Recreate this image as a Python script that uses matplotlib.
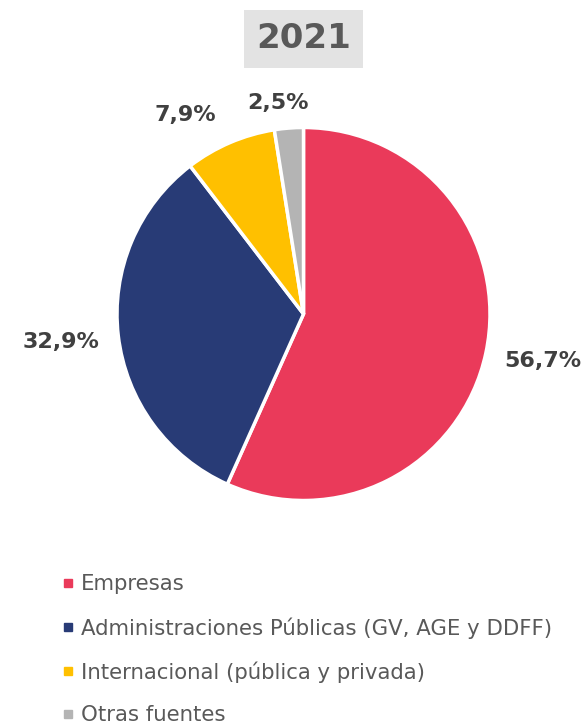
import matplotlib
matplotlib.use("Agg")
import matplotlib.pyplot as plt
from matplotlib.lines import Line2D
import numpy as np

categories = ["Empresas", "Administraciones Públicas (GV, AGE y DDFF)",
              "Internacional (pública y privada)", "Otras fuentes"]
values = [56.7, 32.9, 7.9, 2.5]
value_labels = ["56,7%", "32,9%", "7,9%", "2,5%"]
colors = ["#EA3A5A", "#283B76", "#FFC000", "#B4B4B4"]
title = "2021"

W, H = 588, 726
fig = plt.figure(figsize=(W / 100, H / 100), dpi=100)
fig.patch.set_facecolor("white")

cx, cy, r = 303.5, 314, 186.5
ax = fig.add_axes([(cx - r) / W, (H - cy - r) / H, 2 * r / W, 2 * r / H])
wedges, _ = ax.pie(values, colors=colors, startangle=90, counterclock=False,
                   radius=1, wedgeprops=dict(edgecolor="white", linewidth=2.5))
ax.set_xlim(-1, 1)
ax.set_ylim(-1, 1)
ax.set_aspect("equal")
ax.axis("off")

# label placement (distance factor, angle tweak in degrees)
label_dist = [1.31, 1.31, 1.24, 1.14]
label_dang = [1.0, 0.0, 7.5, 2.4]
for w, lab, d, da in zip(wedges, value_labels, label_dist, label_dang):
    ang = np.deg2rad((w.theta1 + w.theta2) / 2 + da)
    ax.text(d * np.cos(ang), d * np.sin(ang), lab, ha="center", va="center",
            fontsize=16, fontweight="bold", color="#404040", clip_on=False)

fig.text(303.5 / W, 1 - 39 / H, title, ha="center", va="center",
         fontsize=24.5, fontweight="bold", color="#595959",
         bbox=dict(boxstyle="square,pad=0.36", facecolor="#E3E3E3", edgecolor="none"))

handles = [Line2D([0], [0], marker="s", linestyle="none", markersize=6,
                  markerfacecolor=c, markeredgecolor=c) for c in colors]
fig.legend(handles, categories, loc="upper left",
           bbox_to_anchor=(54 / W, 1 - 566 / H), frameon=False,
           fontsize=15.3, labelcolor="#595959", handlelength=0.5,
           handletextpad=0.35, labelspacing=1.06, borderaxespad=0)

fig.savefig("out.png", dpi=100)
